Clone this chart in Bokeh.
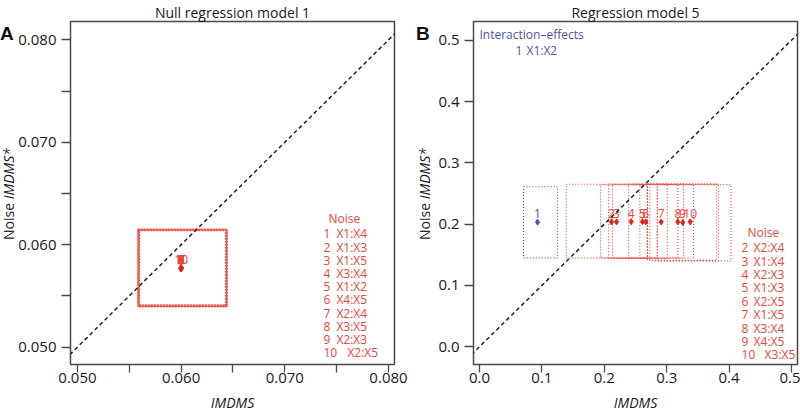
from bokeh.plotting import figure
from bokeh.layouts import row
from bokeh.models import Slope, FixedTicker, NumeralTickFormatter, Range1d, Div
from bokeh.core.properties import value
from bokeh.embed import file_html
from bokeh.resources import INLINE

FONT = "Open Sans"
RED = "#e8453c"
PRED = "#e3211c"
BLUE = "#4a56a6"
FRAME = "#4a4a4a"
INK = "#1a1a1a"

# ---------------- Panel A data (Null regression model 1) ----------------
a_title = "Null regression model 1"
a_ids = ["1", "2", "3", "4", "5", "6", "7", "8", "9", "10"]
a_x = [0.05998, 0.06002, 0.05999, 0.06001, 0.06000, 0.05997, 0.06003, 0.06000, 0.05999, 0.06001]
a_y = [0.05770, 0.05768, 0.05772, 0.05769, 0.05771, 0.05767, 0.05770, 0.05773, 0.05768, 0.05770]
a_left = [0.05580, 0.05592, 0.05585, 0.05600, 0.05588, 0.05596, 0.05583, 0.05590, 0.05598, 0.05586]
a_right = [0.06446, 0.06432, 0.06440, 0.06428, 0.06444, 0.06436, 0.06430, 0.06442, 0.06434, 0.06438]
a_bottom = [0.05392, 0.05404, 0.05398, 0.05410, 0.05395, 0.05402, 0.05407, 0.05400, 0.05396, 0.05412]
a_top = [0.06154, 0.06142, 0.06148, 0.06136, 0.06151, 0.06140, 0.06145, 0.06138, 0.06150, 0.06146]
a_terms = ["X1:X4", "X1:X3", "X1:X5", "X3:X4", "X1:X2", "X4:X5", "X2:X4", "X3:X5", "X2:X3", "X2:X5"]
a_ticks = [0.050, 0.060, 0.070, 0.080]
a_minor = [0.055, 0.065, 0.075]

# ---------------- Panel B data (Regression model 5) ----------------
b_title = "Regression model 5"
b_int_ids = ["1"]
b_int_x = [0.093]
b_int_y = [0.2032]
b_int_left = [0.0705]
b_int_right = [0.125]
b_int_bottom = [0.145]
b_int_top = [0.261]
b_int_terms = ["X1:X2"]

b_ids = ["2", "3", "4", "5", "6", "7", "8", "9", "10"]
b_x = [0.2115, 0.2196, 0.2431, 0.2612, 0.2665, 0.2912, 0.3178, 0.3258, 0.3377]
b_y = [0.2037, 0.2037, 0.2040, 0.2040, 0.2035, 0.2035, 0.2037, 0.2027, 0.2037]
b_left = [0.139, 0.194, 0.207, 0.213, 0.239, 0.257, 0.273, 0.269, 0.285]
b_right = [0.285, 0.269, 0.301, 0.318, 0.327, 0.343, 0.380, 0.383, 0.403]
b_bottom = [0.1445, 0.1450, 0.1440, 0.1448, 0.1443, 0.1446, 0.1405, 0.1410, 0.1400]
b_top = [0.2650, 0.2640, 0.2655, 0.2645, 0.2652, 0.2642, 0.2648, 0.2657, 0.2644]
b_terms = ["X2:X4", "X1:X4", "X2:X3", "X1:X3", "X2:X5", "X1:X5", "X3:X4", "X4:X5", "X3:X5"]
b_ticks = [0.0, 0.1, 0.2, 0.3, 0.4, 0.5]

PAGE_H = 413
FW, FH = 324, 343


def make(xr, yr, left, right, title):
    p = figure(frame_width=FW, frame_height=FH, title=title,
               x_range=Range1d(*xr), y_range=Range1d(*yr),
               output_backend="svg", toolbar_location=None,
               min_border_left=left, min_border_right=right,
               min_border_top=18, min_border_bottom=50)
    return p


def px(p, n):
    return n * (p.x_range.end - p.x_range.start) / FW


def py(p, n):
    return n * (p.y_range.end - p.y_range.start) / FH


def style(p, fmt, ticks, minor):
    p.title.align = "center"
    p.title.text_font = FONT
    p.title.text_font_size = "14px"
    p.title.text_font_style = "normal"
    p.title.text_color = INK
    p.title.standoff = 0
    p.title.text_line_height = 1.0
    p.grid.visible = False
    p.outline_line_color = FRAME
    p.outline_line_width = 1.5
    p.outline_line_alpha = 1.0
    p.xaxis.ticker = FixedTicker(ticks=ticks, minor_ticks=minor)
    p.yaxis.ticker = FixedTicker(ticks=ticks, minor_ticks=minor)
    for ax in (p.xaxis[0], p.yaxis[0]):
        ax.formatter = NumeralTickFormatter(format=fmt)
        ax.axis_line_color = None
        ax.major_tick_in = 0
        ax.minor_tick_in = 0
        ax.major_tick_line_color = FRAME
        ax.minor_tick_line_color = FRAME
        ax.major_tick_line_width = 1.3
        ax.minor_tick_line_width = 1.3
        ax.major_label_text_font = FONT
        ax.major_label_text_font_size = "15px"
        ax.major_label_text_color = INK
    p.xaxis.major_tick_out = 8
    p.xaxis.minor_tick_out = 8
    p.xaxis.major_label_standoff = 0
    p.yaxis.major_tick_out = 9
    p.yaxis.minor_tick_out = 9
    p.yaxis.major_label_standoff = 5
    p.xaxis.axis_label = "IMDMS"
    p.xaxis.axis_label_text_font = FONT
    p.xaxis.axis_label_text_font_style = "italic"
    p.xaxis.axis_label_text_font_size = "14px"
    p.xaxis.axis_label_text_color = INK
    p.xaxis.axis_label_standoff = 7
    p.add_layout(Slope(gradient=1, y_intercept=0, line_color="#222222",
                       line_dash="4 3", line_width=1.5))


def side(width, letter, letter_left, label_left, mid):
    html = (
        f'<div style="position:relative;width:{width}px;height:{PAGE_H}px;">'
        f'<div style="position:absolute;left:{letter_left}px;top:24px;'
        f'font-family:\'Liberation Sans\',sans-serif;font-weight:bold;font-size:19px;'
        f'line-height:19px;color:#111;">{letter}</div>'
        f'<div style="position:absolute;left:{label_left}px;top:{mid - 110}px;height:220px;'
        f'width:18px;writing-mode:vertical-rl;transform:rotate(180deg);text-align:center;'
        f'font-family:\'Open Sans\',sans-serif;font-size:14px;line-height:18px;'
        f'color:{INK};white-space:nowrap;">Noise <i>IMDMS*</i></div>'
        '</div>'
    )
    return Div(text=html, width=width, height=PAGE_H, margin=(0, 0, 0, 0),
               styles={"overflow": "visible"})


def tfont(**kw):
    d = dict(text_font=value(FONT), text_font_size="12px", text_baseline="middle")
    d.update(kw)
    return d


# ---------------- Figure A ----------------
pa = make((0.04933, 0.08058), (0.0483, 0.0818), 56, 16, a_title)
style(pa, "0.000", a_ticks, a_minor)
pa.quad(left=a_left, right=a_right, bottom=a_bottom, top=a_top, fill_alpha=0,
        line_color=RED, line_dash="1 2", line_width=1.1)
pa.scatter(a_x, a_y, marker="diamond", size=6, color=PRED)
pa.text(a_x, a_y, text=a_ids, text_align="center", y_offset=-4,
        text_color=RED, **tfont(text_baseline="bottom"))
ax0, ay0 = 0.07372, 0.06106
ady = py(pa, 13.2)
pa.text([ax0 + px(pa, 5)], [ay0 + py(pa, 15)], text=["Noise"], text_align="left",
        text_color=RED, **tfont())
a_ly = [ay0 - i * ady for i in range(len(a_ids))]
pa.text([ax0] * len(a_ids), a_ly, text=a_ids, text_align="left", text_color=RED, **tfont())
a_cx = [ax0 + px(pa, 13 + (11 if len(s) > 1 else 0)) for s in a_ids]
pa.text(a_cx, a_ly, text=a_terms, text_align="left", text_color=RED, **tfont())

# ---------------- Figure B ----------------
pb = make((-0.0096, 0.5096), (-0.029, 0.5305), 43, 3, b_title)
style(pb, "0.0", b_ticks, [])
pb.quad(left=b_int_left, right=b_int_right, bottom=b_int_bottom, top=b_int_top,
        fill_alpha=0, line_color=BLUE, line_dash="1 2", line_width=1.1)
pb.quad(left=b_left, right=b_right, bottom=b_bottom, top=b_top, fill_alpha=0,
        line_color=RED, line_dash="1 2", line_width=1.1)
pb.scatter(b_int_x, b_int_y, marker="diamond", size=6, color=BLUE)
pb.scatter(b_x, b_y, marker="diamond", size=6, color=PRED)
pb.text(b_int_x, b_int_y, text=b_int_ids, text_align="center", y_offset=-4,
        text_color=BLUE, **tfont(text_baseline="bottom"))
pb.text(b_x, b_y, text=b_ids, text_align="center", y_offset=-4,
        text_color=RED, **tfont(text_baseline="bottom"))
pb.text([0.0], [0.5096], text=["Interaction\u2013effects"], text_align="left",
        text_color=BLUE, **tfont())
pb.text([0.0577], [0.484], text=b_int_ids, text_align="left", text_color=BLUE, **tfont())
pb.text([0.0577 + px(pb, 11)], [0.484], text=b_int_terms, text_align="left",
        text_color=BLUE, **tfont())
bx0, by0 = 0.420, 0.1614
bdy = py(pb, 13.4)
pb.text([bx0 + px(pb, 6)], [by0 + py(pb, 15)], text=["Noise"], text_align="left",
        text_color=RED, **tfont())
b_ly = [by0 - i * bdy for i in range(len(b_ids))]
pb.text([bx0] * len(b_ids), b_ly, text=b_ids, text_align="left", text_color=RED, **tfont())
b_cx = [bx0 + px(pb, 12 + (11 if len(s) > 1 else 0)) for s in b_ids]
pb.text(b_cx, b_ly, text=b_terms, text_align="left", text_color=RED, **tfont())

da = side(14, "A", 0, 0, 194)
db = side(20, "B", 6, 6, 194)

layout = row(da, pa, db, pb)
open("out.html", "w").write(file_html(layout, INLINE))
